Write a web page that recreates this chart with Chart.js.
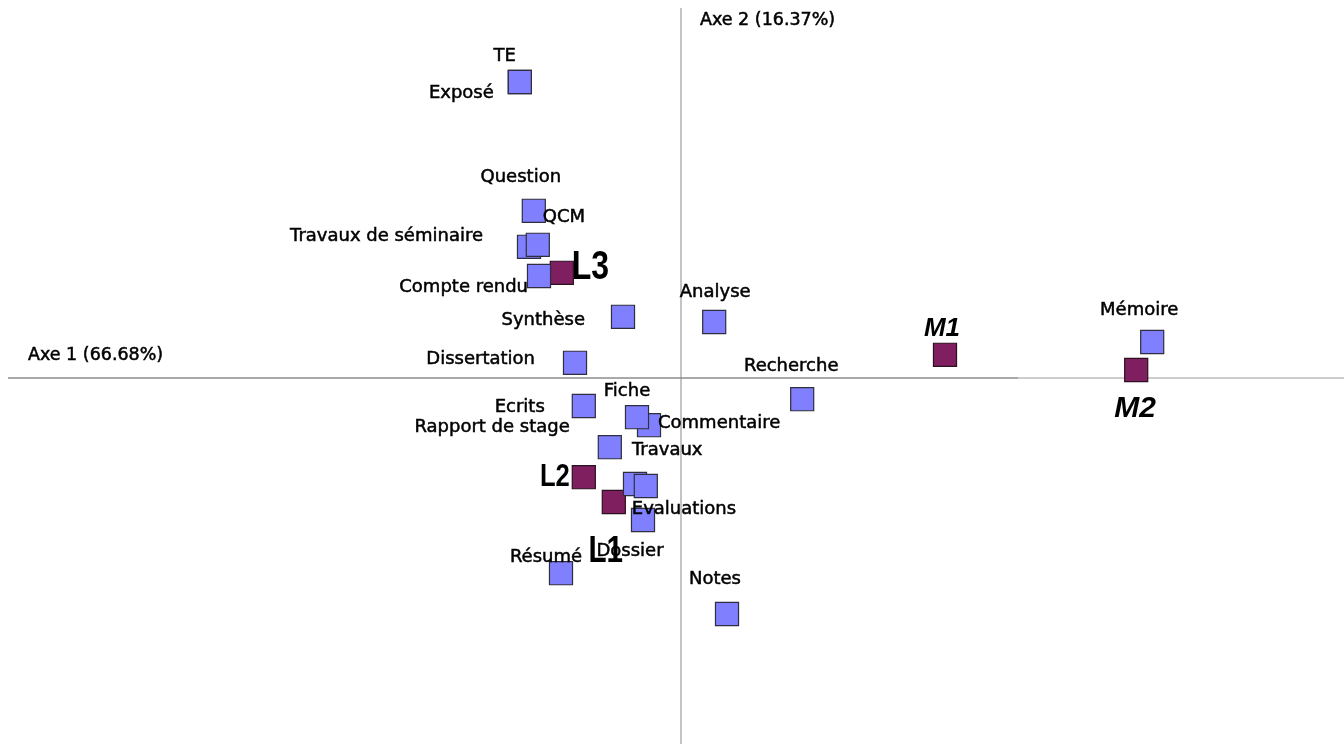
<!DOCTYPE html>
<html lang="fr">
<head>
    <meta charset="UTF-8">
    <title>Axe 1 / Axe 2</title>
    <script src="https://cdn.jsdelivr.net/npm/chart.js"></script>
    <style>
        body {
            margin: 0;
            padding: 0;
            background: #fff;
        }
        .chart-box {
            width: 1344px;
            height: 744px;
        }
    </style>
</head>
<body>
    <div class="chart-box">
        <canvas id="caChart"></canvas>
    </div>

    <script>
        // Modalités (blue squares), in drawing order
        const catLabels = ['TE', 'Exposé', 'Question', 'Travaux de séminaire', 'QCM', 'Compte rendu',
            'Synthèse', 'Analyse', 'Dissertation', 'Recherche', 'Mémoire', 'Ecrits', 'Commentaire',
            'Fiche', 'Rapport de stage', 'Travaux', 'Evaluations', 'Dossier', 'Résumé', 'Notes'];
        const catAxis1 = [-0.403, -0.403, -0.368, -0.380, -0.358, -0.355, -0.145, 0.083, -0.265, 0.303,
            1.178, -0.243, -0.080, -0.110, -0.178, -0.115, -0.088, -0.095, -0.300, 0.115];
        const catAxis2 = [0.740, 0.740, 0.418, 0.328, 0.333, 0.255, 0.153, 0.140, 0.038, -0.053,
            0.090, -0.070, -0.118, -0.098, -0.173, -0.265, -0.270, -0.355, -0.488, -0.590];

        // Niveaux (purple squares)
        const levLabels = ['L1', 'L2', 'L3', 'M1', 'M2'];
        const levAxis1 = [-0.168, -0.243, -0.298, 0.660, 1.138];
        const levAxis2 = [-0.310, -0.248, 0.263, 0.058, 0.020];

        const axisTitle1 = 'Axe 1 (66.68%)';
        const axisTitle2 = 'Axe 2 (16.37%)';

        // label placement relative to the square: [dx, dy, align]
        const catLabelPos = [
            [-15, -26, 'center'], [-26, 11, 'right'], [-13, -33, 'center'], [-46, -10, 'right'],
            [5, -27, 'left'], [-11, 11, 'right'], [-38, 4, 'right'], [1, -30, 'center'],
            [-40, -3, 'right'], [-11, -33, 'center'], [-13, -32, 'center'], [-39, 1, 'right'],
            [9, -2, 'left'], [-10, -26, 'center'], [-40, -20, 'right'], [-3, -34, 'left'],
            [-14, 23, 'left'], [-13, 31, 'center'], [-15, -16, 'center'], [-12, -35, 'center']
        ];
        // [dx, dy, align, size, italic, x-squeeze]
        const levLabelPos = [
            [-8, 50, 'center', 37, false, 0.8], [-14, 0, 'right', 32, false, 0.8],
            [10, -5, 'left', 40, false, 0.8],
            [-3, -26, 'center', 26, true, 1], [-1, 39, 'center', 30, true, 1]
        ];

        const labelFont = '"DejaVu Sans", sans-serif';

        const toPoints = (xs, ys) => xs.map((x, i) => ({ x: x, y: ys[i] }));

        // text drawn with a hairline stroke so it looks as heavy as the original
        function heavyText(ctx, txt, x, y) {
            ctx.fillText(txt, x, y);
            ctx.strokeText(txt, x, y);
        }

        const crossAxes = {
            id: 'crossAxes',
            beforeDatasetsDraw(chart) {
                const ctx = chart.ctx;
                const x0 = chart.scales.x.getPixelForValue(0);
                const y0 = chart.scales.y.getPixelForValue(0);
                ctx.save();
                ctx.lineWidth = 1.5;
                ctx.strokeStyle = '#b0b0b0';
                ctx.beginPath();
                ctx.moveTo(x0, 8);
                ctx.lineTo(x0, chart.height);
                ctx.stroke();
                ctx.strokeStyle = '#8c8c8c';
                ctx.beginPath();
                ctx.moveTo(8, y0);
                ctx.lineTo(1018, y0);
                ctx.stroke();
                ctx.strokeStyle = '#bdbdbd';
                ctx.beginPath();
                ctx.moveTo(1018, y0);
                ctx.lineTo(chart.width, y0);
                ctx.stroke();

                ctx.fillStyle = '#000';
                ctx.strokeStyle = '#000';
                ctx.lineWidth = 0.5;
                ctx.font = '17.5px ' + labelFont;
                ctx.textBaseline = 'middle';
                ctx.textAlign = 'left';
                heavyText(ctx, axisTitle1, 28, y0 - 23);
                heavyText(ctx, axisTitle2, x0 + 19, 20);
                ctx.restore();
            },
            afterDatasetsDraw(chart) {
                const ctx = chart.ctx;
                ctx.save();
                ctx.fillStyle = '#000';
                ctx.strokeStyle = '#000';
                ctx.lineWidth = 0.5;
                ctx.textBaseline = 'middle';

                const cats = chart.getDatasetMeta(0).data;
                ctx.font = '18px ' + labelFont;
                cats.forEach((pt, i) => {
                    const p = catLabelPos[i];
                    ctx.textAlign = p[2];
                    heavyText(ctx, catLabels[i], pt.x + p[0], pt.y + p[1]);
                });

                const levs = chart.getDatasetMeta(1).data;
                levs.forEach((pt, i) => {
                    const p = levLabelPos[i];
                    ctx.save();
                    ctx.translate(pt.x + p[0], pt.y + p[1]);
                    ctx.scale(p[5], 1);
                    ctx.font = (p[4] ? 'italic ' : '') + 'bold ' + p[3] + 'px "Liberation Sans", Arial, sans-serif';
                    ctx.textAlign = p[2];
                    ctx.fillText(levLabels[i], 0, 0);
                    ctx.restore();
                });
                ctx.restore();
            }
        };

        const ctx = document.getElementById('caChart').getContext('2d');
        const caChart = new Chart(ctx, {
            type: 'scatter',
            data: {
                datasets: [{
                    label: 'Modalités',
                    data: toPoints(catAxis1, catAxis2),
                    pointStyle: 'rect',
                    pointRadius: 16.3,
                    pointHoverRadius: 16.3,
                    backgroundColor: '#8080ff',
                    borderColor: '#2e2e3e',
                    borderWidth: 1.2
                }, {
                    label: 'Niveaux',
                    data: toPoints(levAxis1, levAxis2),
                    pointStyle: 'rect',
                    pointRadius: 16.3,
                    pointHoverRadius: 16.3,
                    backgroundColor: '#801f5f',
                    borderColor: '#2b1020',
                    borderWidth: 1.2
                }]
            },
            options: {
                responsive: true,
                maintainAspectRatio: false,
                animation: false,
                layout: { padding: 0, autoPadding: false },
                plugins: {
                    legend: { display: false },
                    tooltip: { enabled: false }
                },
                scales: {
                    x: { type: 'linear', min: -1.7025, max: 1.6575, display: false },
                    y: { type: 'linear', min: -0.915, max: 0.945, display: false }
                }
            },
            plugins: [crossAxes]
        });
    </script>
</body>
</html>
